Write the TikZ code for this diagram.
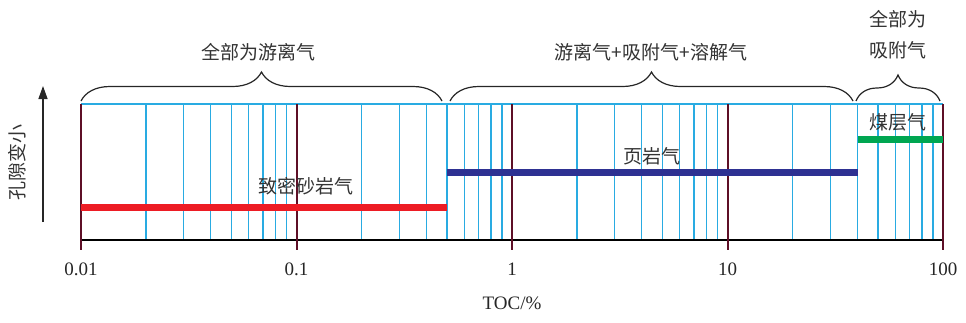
\documentclass[tikz,border=0pt]{standalone}
\usepackage{fontspec}
\setmainfont{Liberation Serif}
\newfontfamily\cjk{Noto Sans CJK SC}
\usetikzlibrary{decorations.pathreplacing,arrows.meta}
\definecolor{gridblue}{HTML}{29ABE2}
\definecolor{maroon}{HTML}{5E0F26}
\definecolor{barred}{HTML}{ED1C24}
\definecolor{barblue}{HTML}{2E3192}
\definecolor{bargreen}{HTML}{00A651}
\tikzset{
  minorline/.style={gridblue, line width=1.3pt},
  majorline/.style={maroon, line width=2pt},
  bar/.style={line width=7pt},
  bracestyle/.style={decorate, black!85, line width=1.2pt},
  cjklabel/.style={font=\cjk\fontsize{19}{22}\selectfont, text=black!80, inner sep=0pt},
  numlabel/.style={font=\fontsize{19}{22}\selectfont, text=black!85, inner sep=0pt}
}
\begin{document}
\begin{tikzpicture}[x=1pt,y=-1pt]
\useasboundingbox (0,0) rectangle (966,322);
% minor grid lines
\foreach \d in {0,1,2,3}{
  \foreach \k in {2,...,9}{
    \pgfmathsetmacro{\xx}{81+215.5*(\d+log10(\k))}
    \draw[minorline] (\xx,104) -- (\xx,240);
  }
}
\coordinate (tl) at (81,104);
\coordinate (tr) at (943,104);
\coordinate (bl) at (81,240);
\coordinate (br) at (943,240);
\draw[minorline] (tl) -- (tr);
\draw[black, line width=2pt] (bl) -- (br);
% major lines and labels
\foreach \d/\lab in {0/0.01,1/0.1,2/1,3/10,4/100}{
  \pgfmathsetmacro{\xx}{81+215.5*\d}
  \draw[majorline] (\xx,104) -- (\xx,250);
  \node[numlabel] (n\d) at (\xx,269) {\lab};
}
\node[numlabel] (toc) at (512,303) {TOC/\%};
% bars
\draw[bar, barred] (81,207.5) -- (447,207.5);
\draw[bar, barblue] (447,172.5) -- (858,172.5);
\draw[bar, bargreen] (858,139) -- (943,139);
% bar labels
\node[cjklabel] (tight) at (306,186) {致密砂岩气};
\node[cjklabel] (shale) at (652,156) {页岩气};
\node[cjklabel] (coal) at (898,122) {煤层气};
% braces
\draw[bracestyle, decoration={brace, amplitude=29pt}] (81,101) -- (442,101);
\draw[bracestyle, decoration={brace, amplitude=29pt}] (450,101) -- (853,101);
\draw[bracestyle, decoration={brace, amplitude=26pt}] (856,101) -- (940,101);
\node[cjklabel] (b1) at (258,52) {全部为游离气};
\node[cjklabel] (b2) at (651,52) {游离气+吸附气+溶解气};
\node[cjklabel] (b3a) at (898,19) {全部为};
\node[cjklabel] (b3b) at (898,50) {吸附气};
% y axis
\coordinate (ya) at (43,222);
\coordinate (yb) at (43,86);
\draw[black!85, line width=1.3pt, -{Triangle[length=13pt,width=9pt]}] (ya) -- (yb);
\node[cjklabel, rotate=90] (ylab) at (17,162) {孔隙变小};
\end{tikzpicture}
\end{document}
